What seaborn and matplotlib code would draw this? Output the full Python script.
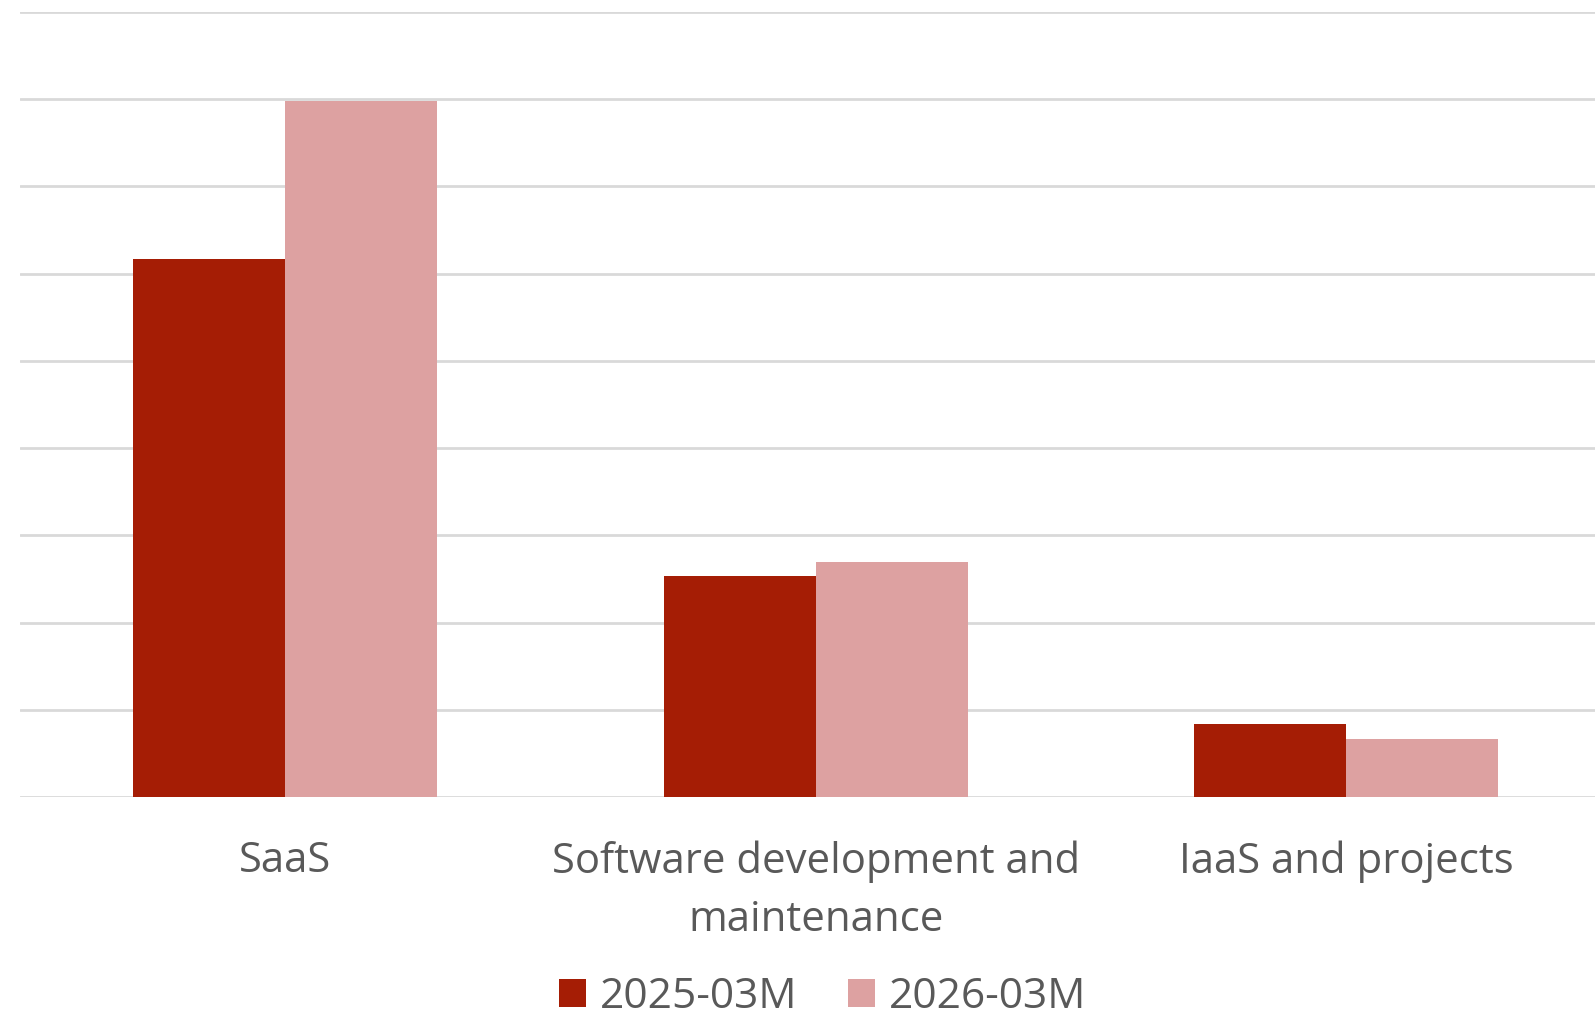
import matplotlib
matplotlib.use("Agg")
import matplotlib.pyplot as plt
import seaborn as sns
import pandas as pd

# Segment revenue, two periods (unitless scale, 9 grid steps)
categories = ["SaaS", "Software development and\nmaintenance", "IaaS and projects"]
series_names = ["2025-03M", "2026-03M"]
values_2025 = [6.17, 2.535, 0.835]
values_2026 = [7.98, 2.70, 0.668]

colors = ["#A51D05", "#DDA1A1"]
text_color = "#595959"
grid_color = "#D9D9D9"

df = pd.DataFrame({
    "segment": categories * 2,
    "period": [series_names[0]] * len(categories) + [series_names[1]] * len(categories),
    "value": values_2025 + values_2026,
})

sns.set_theme(style="white")
plt.rcParams["font.family"] = ["Open Sans", "DejaVu Sans"]

W, H = 1595, 1018
fig = plt.figure(figsize=(W / 100, H / 100), dpi=100)
ax_left, ax_right = 19.7, 1611.6
ax_top, ax_bottom = 11.7, 797.3
ax = fig.add_axes([ax_left / W, 1 - ax_bottom / H, (ax_right - ax_left) / W, (ax_bottom - ax_top) / H])

sns.barplot(data=df, x="segment", y="value", hue="period", order=categories,
            hue_order=series_names, palette=colors, width=0.573, gap=0,
            saturation=1, linewidth=0, ax=ax)

ax.set_xlim(-0.5, 2.5)
ax.set_ylim(0, 9)
ax.set_yticks(range(0, 10))
ax.set_yticklabels([])
ax.tick_params(axis="y", length=0)
ax.grid(axis="y", color=grid_color, linewidth=2)
ax.grid(axis="x", visible=False)
ax.set_axisbelow(True)
for s in ax.spines.values():
    s.set_visible(False)

ax.set_xlabel("")
ax.set_ylabel("")
ax.tick_params(axis="x", length=0, pad=31, labelsize=30.2, labelcolor=text_color)
for lbl in ax.get_xticklabels():
    lbl.set_linespacing(1.52)

ax.legend_.remove()
handles, labels = ax.get_legend_handles_labels()
fig.legend(handles, labels, loc="lower center", bbox_to_anchor=(823 / W, 0.0),
           ncol=2, frameon=False, fontsize=30.5, labelcolor=text_color,
           handlelength=0.63, handleheight=0.63, handletextpad=0.33,
           columnspacing=1.2, borderpad=0, borderaxespad=0)

fig.savefig("out.png", dpi=100)
